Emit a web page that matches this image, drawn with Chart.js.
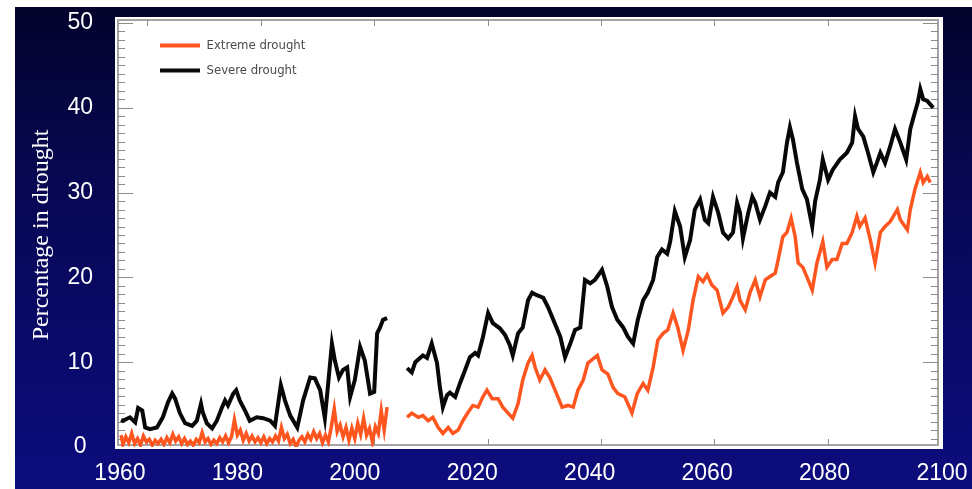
<!DOCTYPE html>
<html>
<head>
<meta charset="utf-8">
<style>
  html, body { margin: 0; padding: 0; background: #ffffff; }
  canvas { display: block; }
</style>
<script src="https://cdn.jsdelivr.net/npm/chart.js@4.4.1/dist/chart.umd.min.js"></script>
</head>
<body>
<canvas id="drought" width="972" height="489"></canvas>
<script>
// Share of land area in drought, by year (null marks the break between runs)
const severeYears = [
  1960.2, 1960.5, 1961.7, 1962.6, 1963.1, 1963.8, 1964.3, 1965.1, 1966.3, 1967.3,
  1968.2, 1968.9, 1969.4, 1970.2, 1971.1, 1972.3, 1973.1, 1973.8, 1974.1, 1974.8,
  1975.7, 1976.5, 1977.4, 1977.9, 1978.4, 1979.3, 1979.8, 1980.4, 1981.3, 1982.1,
  1983.3, 1984.4, 1985.6, 1986.4, 1987.4, 1988.1, 1989.0, 1990.2, 1991.2, 1992.4,
  1993.2, 1994.1, 1994.9, 1995.4, 1996.1, 1996.6, 1997.3, 1998.0, 1998.7, 1999.2,
  2000.0, 2000.9, 2001.7, 2002.6, 2003.3, 2003.8, 2004.3, 2004.8, 2005.5,
  2007.0,
  2008.9, 2009.7, 2010.3, 2011.1, 2011.6, 2012.3, 2013.1, 2014.0, 2014.5, 2015.0,
  2015.7, 2016.2, 2017.1, 2017.9, 2018.8, 2019.6, 2020.5, 2021.0, 2021.8, 2022.7,
  2023.5, 2024.7, 2025.6, 2026.4, 2026.9, 2027.8, 2028.6, 2029.5, 2030.2, 2031.0,
  2032.1, 2032.9, 2033.8, 2035.0, 2035.8, 2036.7, 2037.5, 2038.4, 2039.2, 2040.1,
  2040.9, 2042.1, 2043.0, 2043.8, 2044.7, 2045.7, 2046.5, 2047.4, 2048.2, 2049.1,
  2049.9, 2050.8, 2051.5, 2052.3, 2053.2, 2053.7, 2054.5, 2055.4, 2056.2, 2057.1,
  2057.9, 2058.8, 2059.6, 2060.2, 2061.0, 2061.9, 2062.7, 2063.6, 2064.4, 2065.1,
  2065.6, 2066.1, 2067.0, 2067.7, 2068.2, 2069.0, 2069.9, 2070.7, 2071.6, 2072.1,
  2072.9, 2073.6, 2074.1, 2074.6, 2075.3, 2076.2, 2077.0, 2077.9, 2078.4, 2079.2,
  2079.7, 2080.6, 2081.4, 2082.6, 2083.8, 2084.7, 2085.2, 2085.7, 2086.6, 2087.4,
  2088.3, 2088.9, 2089.5, 2090.3, 2091.2, 2092.0, 2092.9, 2093.9, 2094.6, 2095.4,
  2095.9, 2096.3, 2096.8, 2097.5, 2098.0, 2098.5
];
const severeValues = [
  3.2, 3.1, 3.5, 2.9, 4.6, 4.3, 2.3, 2.1, 2.3, 3.5,
  5.3, 6.3, 5.7, 4.0, 2.8, 2.5, 3.1, 5.1, 4.1, 2.8,
  2.2, 3.1, 4.7, 5.5, 4.9, 6.3, 6.7, 5.5, 4.3, 3.1,
  3.5, 3.4, 3.1, 2.5, 7.3, 5.5, 3.7, 2.3, 5.5, 8.2,
  8.1, 6.7, 3.4, 7.0, 12.2, 10.2, 8.2, 9.1, 9.4, 5.9,
  7.9, 11.8, 10.2, 6.3, 6.5, 13.4, 14.1, 15.0, 15.2,
  null,
  9.3, 8.8, 10.0, 10.5, 10.8, 10.5, 12.2, 9.9, 7.0, 4.7,
  6.1, 6.4, 5.9, 7.5, 9.1, 10.6, 11.1, 10.8, 12.9, 15.8,
  14.6, 14.0, 13.2, 12.0, 10.8, 13.4, 14.1, 17.3, 18.2, 17.9,
  17.6, 16.5, 15.0, 13.0, 10.6, 12.2, 13.8, 14.1, 19.7, 19.3,
  19.7, 20.9, 18.9, 16.5, 15.0, 14.1, 13.0, 12.2, 15.0, 17.3,
  18.2, 19.7, 22.4, 23.3, 22.8, 24.2, 27.8, 26.0, 22.4, 24.4,
  28.0, 29.2, 26.8, 26.4, 29.5, 27.6, 25.3, 24.6, 25.3, 28.8,
  27.6, 24.6, 27.6, 29.5, 28.8, 26.8, 28.4, 30.0, 29.5, 31.2,
  32.4, 35.9, 37.7, 36.3, 33.5, 30.4, 29.2, 26.0, 29.0, 31.5,
  33.9, 31.5, 32.7, 33.9, 34.7, 35.9, 39.0, 37.5, 36.6, 34.7,
  32.4, 33.5, 34.7, 33.5, 35.5, 37.5, 35.9, 33.9, 37.5, 39.5,
  40.7, 42.2, 41.0, 40.8, 40.4, 40.0
];

const extremeYears = [
  1960.2, 1960.5, 1961.0, 1961.5, 1962.0, 1962.5, 1963.0, 1963.5, 1964.0, 1964.5,
  1965.0, 1965.5, 1966.0, 1966.5, 1967.0, 1967.5, 1968.0, 1968.5, 1969.0, 1969.5,
  1970.0, 1970.5, 1971.0, 1971.5, 1972.0, 1972.5, 1973.0, 1973.5, 1974.0, 1974.5,
  1975.0, 1975.5, 1976.0, 1976.5, 1977.0, 1977.5, 1978.0, 1978.5, 1979.0, 1979.5,
  1980.0, 1980.5, 1981.0, 1981.5, 1982.0, 1982.5, 1983.0, 1983.5, 1984.0, 1984.5,
  1985.0, 1985.5, 1986.0, 1986.5, 1987.0, 1987.5, 1988.0, 1988.5, 1989.0, 1989.5,
  1990.0, 1990.5, 1991.0, 1991.5, 1992.0, 1992.5, 1993.0, 1993.5, 1994.0, 1994.5,
  1995.0, 1995.5, 1996.0, 1996.5, 1997.0, 1997.5, 1998.0, 1998.5, 1999.0, 1999.5,
  2000.0, 2000.5, 2001.0, 2001.5, 2002.0, 2002.5, 2003.0, 2003.5, 2004.0, 2004.5,
  2005.0, 2005.5,
  2007.0,
  2008.9, 2009.7, 2010.8, 2011.6, 2012.5, 2013.3, 2014.2, 2015.0, 2015.9, 2016.7,
  2017.6, 2018.4, 2019.3, 2020.1, 2021.0, 2021.8, 2022.5, 2023.4, 2024.4, 2025.2,
  2026.1, 2026.9, 2027.8, 2028.6, 2029.5, 2030.2, 2030.7, 2031.5, 2032.4, 2033.2,
  2034.1, 2035.3, 2036.3, 2037.2, 2038.0, 2038.9, 2039.7, 2041.3, 2042.1, 2043.1,
  2044.0, 2044.8, 2046.0, 2047.2, 2048.1, 2049.1, 2049.9, 2050.8, 2051.6, 2052.5,
  2053.3, 2054.2, 2055.0, 2055.9, 2056.8, 2057.6, 2058.5, 2059.3, 2060.0, 2060.8,
  2061.7, 2062.7, 2063.6, 2064.4, 2065.1, 2065.6, 2066.5, 2067.3, 2068.2, 2069.0,
  2069.9, 2070.7, 2071.6, 2072.1, 2072.9, 2073.6, 2074.3, 2075.0, 2075.5, 2076.3,
  2077.2, 2077.9, 2078.7, 2079.7, 2080.4, 2081.3, 2082.1, 2083.0, 2083.8, 2084.7,
  2085.5, 2086.0, 2086.9, 2087.8, 2088.6, 2089.5, 2090.3, 2091.2, 2092.4, 2092.9,
  2094.1, 2094.6, 2095.4, 2096.3, 2096.8, 2097.5, 2098.0
];
const extremeValues = [
  1.4, 0.3, 1.2, 0.5, 1.6, 0.4, 1.0, 0.2, 1.3, 0.6,
  0.9, 0.2, 0.8, 0.4, 0.9, 0.3, 1.1, 0.5, 1.5, 0.7,
  1.2, 0.4, 1.0, 0.3, 0.7, 0.2, 0.9, 0.5, 1.7, 0.6,
  1.0, 0.3, 0.8, 0.4, 1.1, 0.6, 1.3, 0.5, 1.2, 3.2,
  1.4, 2.0, 0.8, 1.6, 0.7, 1.3, 0.6, 1.1, 0.5, 1.2,
  0.4, 1.0, 0.6, 1.3, 0.7, 2.3, 1.0, 1.5, 0.4, 0.9,
  0.0, 0.8, 1.2, 0.6, 1.5, 0.9, 1.8, 1.0, 1.6, 0.5,
  1.4, 0.6, 2.4, 4.5, 1.8, 2.6, 1.2, 2.3, 0.8, 2.2,
  1.0, 2.8, 1.5, 3.4, 1.4, 2.2, 0.6, 2.4, 1.6, 4.3,
  2.0, 4.7,
  null,
  3.5, 4.0, 3.5, 3.7, 3.1, 3.5, 2.3, 1.6, 2.3, 1.6,
  2.0, 3.1, 4.1, 4.9, 4.7, 5.9, 6.7, 5.7, 5.7, 4.7,
  4.0, 3.4, 5.1, 7.9, 9.9, 10.8, 9.4, 7.9, 9.1, 8.2,
  6.7, 4.7, 4.9, 4.7, 6.7, 7.9, 9.9, 10.8, 9.1, 8.6,
  7.0, 6.3, 5.9, 4.0, 6.3, 7.5, 6.7, 9.4, 12.6, 13.4,
  13.8, 15.8, 14.1, 11.4, 13.8, 17.3, 20.1, 19.5, 20.3, 19.1,
  18.5, 15.8, 16.5, 17.7, 18.9, 17.3, 16.2, 18.2, 19.7, 17.7,
  19.7, 20.1, 20.5, 22.1, 24.8, 25.3, 27.0, 24.8, 21.7, 21.2,
  19.7, 18.5, 21.7, 24.2, 21.2, 22.1, 22.1, 24.0, 24.0, 25.3,
  27.2, 26.0, 27.0, 24.4, 21.7, 25.3, 26.0, 26.6, 28.0, 26.8,
  25.6, 28.0, 30.4, 32.4, 31.2, 31.9, 31.2
];

// Axis labelling
const yearTicks = [1960, 1980, 2000, 2020, 2040, 2060, 2080, 2100];
const percentTicks = [0, 10, 20, 30, 40, 50];
// Inner tick marks of the framed plot box
const frameYearTicks = [1960, 1980, 2000, 2020, 2040, 2060, 2080];

const toPoints = (xs, ys) => xs.map((x, i) => ({ x: x, y: ys[i] }));

const ORANGE = '#ff5620';
const BLACK = '#080808';

// Slide backdrop, white plot box with grey frame and inward tick marks
const framePlugin = {
  id: 'framePlugin',
  beforeDraw(chart) {
    const { ctx, chartArea: ca, scales } = chart;
    const W = chart.width, H = chart.height;
    ctx.save();
    ctx.fillStyle = '#ffffff';
    ctx.fillRect(0, 0, W, H);
    const g = ctx.createLinearGradient(0, 7, 0, H);
    g.addColorStop(0, '#03032c');
    g.addColorStop(0.35, '#070752');
    g.addColorStop(1, '#0c0c7e');
    ctx.fillStyle = g;
    ctx.fillRect(15, 7, W - 15, H - 7);

    // white plot box
    const bx0 = ca.left - 2, bx1 = ca.right + 1, by0 = ca.top - 6, by1 = ca.bottom + 2;
    ctx.fillStyle = '#ffffff';
    ctx.fillRect(bx0, by0, bx1 - bx0, by1 - by0);

    // grey frame
    const fx0 = ca.left + 1, fx1 = ca.right - 4, fy0 = ca.top - 3, fy1 = ca.bottom - 2;
    ctx.strokeStyle = '#a4a4a4';
    ctx.lineWidth = 2;
    ctx.strokeRect(fx0, fy0, fx1 - fx0, fy1 - fy0);

    // tick marks on the left and right edges, one per percent
    ctx.strokeStyle = '#8c8c8c';
    ctx.lineWidth = 1;
    ctx.beginPath();
    for (let v = 0; v <= 50; v++) {
      const py = Math.round(scales.y.getPixelForValue(v)) + 0.5;
      if (py < fy0 + 2 || py > fy1 - 1) continue;
      const len = v % 10 === 0 ? 15 : 7;
      ctx.moveTo(fx0, py); ctx.lineTo(fx0 + len, py);
      ctx.moveTo(fx1, py); ctx.lineTo(fx1 - len, py);
    }
    // tick marks on the top and bottom edges
    frameYearTicks.forEach(v => {
      const px = Math.round(scales.xf.getPixelForValue(v)) + 0.5;
      ctx.moveTo(px, fy0); ctx.lineTo(px, fy0 + 6);
      ctx.moveTo(px, fy1); ctx.lineTo(px, fy1 - 6);
    });
    ctx.stroke();
    ctx.restore();
  }
};

// Place the legend inside the plot box, near its top-left corner
const legendPlacement = {
  id: 'legendPlacement',
  afterLayout(chart) {
    const l = chart.legend, ca = chart.chartArea;
    if (!l) return;
    const w = l.width, h = 80;
    l.left = ca.left + 31; l.right = l.left + w;
    l.top = ca.top + 4; l.bottom = l.top + h;
    l.height = h;
  }
};

new Chart(document.getElementById('drought'), {
  type: 'line',
  data: {
    datasets: [
      {
        label: 'Extreme drought',
        data: toPoints(extremeYears, extremeValues),
        borderColor: ORANGE,
        backgroundColor: ORANGE,
        borderWidth: 3.5,
        pointRadius: 0,
        spanGaps: false,
        tension: 0
      },
      {
        label: 'Severe drought',
        data: toPoints(severeYears, severeValues),
        borderColor: BLACK,
        backgroundColor: BLACK,
        borderWidth: 4,
        pointRadius: 0,
        spanGaps: false,
        tension: 0
      }
    ]
  },
  options: {
    responsive: false,
    animation: false,
    devicePixelRatio: 1,
    layout: { autoPadding: false, padding: { left: 15, top: 23, right: 30, bottom: 0 } },
    scales: {
      x: {
        type: 'linear',
        min: 1959.5,
        max: 2100,
        afterBuildTicks: (scale) => { scale.ticks = yearTicks.map(v => ({ value: v })); },
        afterFit: (scale) => {
          scale.height = 42;
          scale.paddingLeft = 0;
          scale.paddingRight = 0;
        },
        grid: { display: false, drawTicks: false },
        border: { display: false },
        ticks: {
          color: '#ffffff',
          padding: 13,
          maxRotation: 0,
          autoSkip: false,
          font: { family: '"Liberation Sans", Arial, sans-serif', size: 23 },
          callback: (v) => String(v)
        }
      },
      xf: {
        type: 'linear',
        display: false,
        min: 1954.71,
        max: 2100.09
      },
      y: {
        type: 'linear',
        min: 0,
        max: 50,
        afterBuildTicks: (scale) => { scale.ticks = percentTicks.map(v => ({ value: v })); },
        afterFit: (scale) => {
          scale.width = 102;
          scale.paddingTop = 0;
          scale.paddingBottom = 0;
        },
        grid: { display: false, drawTicks: false },
        border: { display: false },
        ticks: {
          color: '#ffffff',
          padding: 24,
          crossAlign: 'center',
          font: { family: '"Liberation Sans", Arial, sans-serif', size: 23 },
          callback: (v) => String(v)
        },
        title: {
          display: true,
          text: 'Percentage in drought',
          color: '#ffffff',
          padding: { top: 12.6, bottom: 0 },
          font: { family: '"Liberation Serif", "Times New Roman", serif', size: 24 }
        }
      }
    },
    plugins: {
      legend: {
        position: 'chartArea',
        align: 'start',
        labels: {
          boxWidth: 40,
          boxHeight: 4,
          padding: 12,
          color: '#4a4a4a',
          font: { family: '"DejaVu Sans Condensed", "Liberation Sans Narrow", sans-serif', size: 13 },
          generateLabels: (chart) =>
            Chart.defaults.plugins.legend.labels.generateLabels(chart).map(item => ({ ...item, lineWidth: 0 }))
        }
      },
      tooltip: { enabled: false }
    }
  },
  plugins: [framePlugin, legendPlacement]
});
</script>
</body>
</html>
